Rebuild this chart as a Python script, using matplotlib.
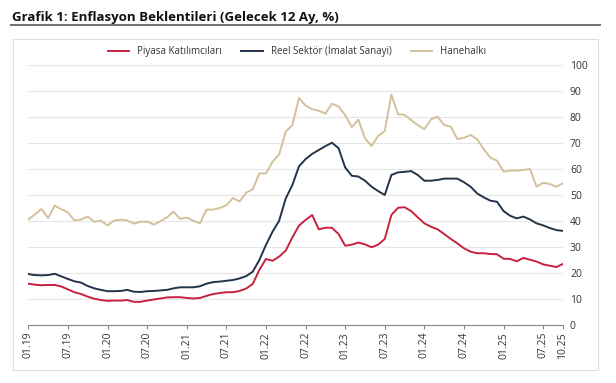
import matplotlib
matplotlib.use("Agg")
import matplotlib.pyplot as plt
from matplotlib.lines import Line2D
from matplotlib.patches import Rectangle
import numpy as np

plt.rcParams["font.family"] = ["Open Sans", "DejaVu Sans"]

# aylık veriler, 01.2019 - 10.2025
piyasa = [
    15.9, 15.5, 15.3, 15.4, 15.4, 14.8, 13.7, 12.6, 11.9, 10.9, 10.1, 9.6,
    9.3, 9.4, 9.4, 9.6, 8.9, 8.9, 9.4, 9.8, 10.2, 10.6, 10.7, 10.7,
    10.4, 10.2, 10.4, 11.2, 11.9, 12.3, 12.6, 12.6, 13.1, 14.0, 15.8, 21.2,
    25.4, 24.7, 26.3, 28.6, 33.7, 38.2, 40.4, 42.3, 36.8, 37.4, 37.4, 35.0,
    30.5, 30.9, 31.7, 31.0, 29.9, 30.9, 33.1, 42.3, 45.1, 45.3, 43.8, 41.4,
    39.1, 37.8, 36.8, 35.0, 33.1, 31.4, 29.5, 28.2, 27.6, 27.6, 27.3, 27.2,
    25.5, 25.4, 24.5, 25.8, 25.1, 24.4, 23.3, 22.8, 22.3, 23.5,
]
reel = [
    19.6, 19.2, 19.1, 19.2, 19.7, 18.7, 17.7, 16.8, 16.3, 15.0, 14.1, 13.5,
    13.0, 13.0, 13.1, 13.5, 12.8, 12.7, 13.0, 13.1, 13.3, 13.5, 14.1, 14.5,
    14.5, 14.5, 14.9, 15.9, 16.5, 16.7, 17.0, 17.3, 17.9, 18.8, 20.5, 25.0,
    30.8, 35.9, 40.1, 48.7, 53.8, 61.0, 63.8, 65.8, 67.3, 68.8, 70.1, 68.0,
    60.6, 57.4, 57.1, 55.5, 53.2, 51.5, 50.0, 57.7, 58.7, 58.9, 59.2, 57.7,
    55.5, 55.5, 55.8, 56.3, 56.3, 56.3, 54.9, 53.2, 50.6, 49.1, 47.8, 47.4,
    43.8, 42.0, 41.0, 41.7, 40.6, 39.1, 38.3, 37.3, 36.5, 36.2,
]
hanehalki = [
    40.6, 42.5, 44.6, 41.1, 45.9, 44.5, 43.3, 40.2, 40.6, 41.7, 39.7, 40.1,
    38.3, 40.2, 40.5, 40.2, 39.0, 39.7, 39.8, 38.6, 39.9, 41.4, 43.6, 40.8,
    41.3, 40.1, 39.1, 44.4, 44.4, 45.0, 46.0, 48.8, 47.5, 50.9, 52.2, 58.3,
    58.3, 62.8, 65.6, 74.4, 76.8, 87.3, 84.4, 83.0, 82.4, 81.3, 85.1, 84.1,
    80.7, 76.1, 79.0, 71.8, 68.9, 72.7, 74.6, 88.6, 81.1, 80.8, 78.8, 76.9,
    75.3, 79.1, 80.1, 76.9, 76.3, 71.5, 72.0, 73.1, 71.4, 67.6, 64.4, 63.2,
    59.0, 59.4, 59.4, 59.6, 60.0, 53.2, 54.7, 54.2, 53.2, 54.5,
]
tick_pos = [0, 6, 12, 18, 24, 30, 36, 42, 48, 54, 60, 66, 72, 78, 81]
tick_labels = ["01.19", "07.19", "01.20", "07.20", "01.21", "07.21", "01.22",
               "07.22", "01.23", "07.23", "01.24", "07.24", "01.25", "07.25", "10.25"]

W, H = 616, 383
fig = plt.figure(figsize=(W / 100, H / 100), dpi=100)
ax = fig.add_axes([28.3 / W, 1 - 325 / H, 534.7 / W, 260 / H])

x = np.arange(len(piyasa))
ax.plot(x, piyasa, color="#C8223F", lw=1.4, label="Piyasa Katılımcıları")
ax.plot(x, reel, color="#22334A", lw=1.4, label="Reel Sektör (İmalat Sanayi)")
ax.plot(x, hanehalki, color="#D5C09C", lw=1.4, label="Hanehalkı")

ax.set_xlim(0, len(piyasa) - 1)
ax.set_ylim(0, 100)
ax.set_yticks(range(0, 101, 10))
ax.yaxis.tick_right()
ax.tick_params(axis="y", length=0, pad=5, labelsize=7.5, labelcolor="#333333")
ax.set_xticks(tick_pos)
ax.set_xticklabels(tick_labels, rotation=90)
ax.tick_params(axis="x", length=3, width=0.8, color="#888888", pad=2,
               labelsize=7.5, labelcolor="#333333")
ax.set_xticks(range(0, 82, 6), minor=True)
ax.grid(True, which="major", axis="y", color="#E6E6E6", lw=0.8)
ax.grid(True, which="minor", axis="x", color="#E6E6E6", lw=0.8)
ax.tick_params(axis="x", which="minor", length=0)
ax.set_axisbelow(True)
for side in ["top", "left", "right"]:
    ax.spines[side].set_visible(False)
ax.spines["bottom"].set_color("#888888")
ax.spines["bottom"].set_linewidth(0.8)

fig.legend(loc="center", bbox_to_anchor=(297 / W, 1 - 51 / H), ncol=3, frameon=False,
           fontsize=7, handlelength=2.2, handletextpad=0.8, columnspacing=2.0,
           labelcolor="#333333")

fig.text(11.5 / W, 1 - 21 / H, "Grafik 1: Enflasyon Beklentileri (Gelecek 12 Ay, %)",
         fontsize=9.5, fontweight="bold", color="#111111", va="baseline", ha="left")
fig.add_artist(Line2D([11 / W, 600 / W], [1 - 24.5 / H] * 2, color="#707070", lw=1.4,
                      transform=fig.transFigure))
fig.add_artist(Rectangle((12.7 / W, 1 - 370 / H), (598 - 12.7) / W, (370 - 39) / H,
                         transform=fig.transFigure, fill=False, edgecolor="#DDDDDD", lw=0.8))

fig.savefig("out.png", dpi=100)
